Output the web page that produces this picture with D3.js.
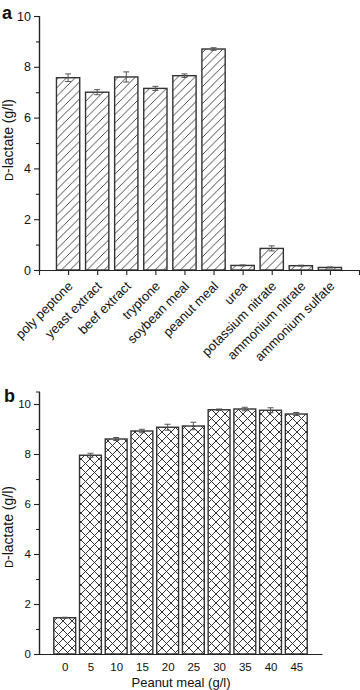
<!DOCTYPE html>
<html>
<head>
<meta charset="utf-8">
<script src="https://cdn.jsdelivr.net/npm/d3@7"></script>
<style>
  html, body { margin: 0; padding: 0; background: #fff; }
  svg { display: block; font-family: "Liberation Sans", Arial, sans-serif; }
</style>
</head>
<body>
<svg id="chart" width="360" height="690"></svg>
<script>
// ---- Data ----
const catsA = ["poly peptone", "yeast extract", "beef extract", "tryptone", "soybean meal",
               "peanut meal", "urea", "potassium nitrate", "ammonium nitrate", "ammonium sulfate"];
const valsA = [7.57, 7.0, 7.6, 7.15, 7.65, 8.7, 0.18, 0.85, 0.17, 0.1];
const errA  = [0.15, 0.1, 0.2, 0.08, 0.07, 0.05, 0.02, 0.1, 0.02, 0.02];
const yTicksA = [0, 2, 4, 6, 8, 10];

const catsB = ["0", "5", "10", "15", "20", "25", "30", "35", "40", "45"];
const valsB = [1.45, 7.95, 8.6, 8.92, 9.07, 9.12, 9.77, 9.8, 9.75, 9.6];
const errB  = [0.02, 0.08, 0.06, 0.07, 0.12, 0.15, 0.03, 0.07, 0.1, 0.06];
const yTicksB = [0, 2, 4, 6, 8, 10];

const yLabel = "D-lactate (g/l)";
const xLabelB = "Peanut meal (g/l)";

const svg = d3.select("#chart");
const AX = "#222";

// ---- patterns ----
const defs = svg.append("defs");
const pA = defs.append("pattern").attr("id", "hatchA").attr("patternUnits", "userSpaceOnUse")
  .attr("width", 8.5).attr("height", 8.5);
pA.append("rect").attr("width", 8.5).attr("height", 8.5).attr("fill", "#fff");
pA.append("path").attr("d", "M-2,2 L2,-2 M0,8.5 L8.5,0 M6.5,10.5 L10.5,6.5")
  .attr("stroke", "#333").attr("stroke-width", 0.9);

const S = 9;
const pB = defs.append("pattern").attr("id", "hatchB").attr("patternUnits", "userSpaceOnUse")
  .attr("width", S).attr("height", S);
pB.append("rect").attr("width", S).attr("height", S).attr("fill", "#fff");
pB.append("path").attr("d", `M-2,2 L2,-2 M0,${S} L${S},0 M${S-2},${S+2} L${S+2},${S-2} M-2,${S-2} L2,${S+2} M0,0 L${S},${S} M${S-2},-2 L${S+2},2`)
  .attr("stroke", "#333").attr("stroke-width", 1);

function drawPanel(opt) {
  const g = svg.append("g");
  const x = d3.scaleLinear().domain([0, opt.cats.length + 1]).range(opt.xRange);
  const y = d3.scaleLinear().domain(opt.yDomain).range(opt.yRange);
  const step = x(1) - x(0);
  const bw = step * opt.barFrac;

  // bars
  g.selectAll("rect.bar").data(opt.vals).join("rect")
    .attr("class", "bar")
    .attr("x", (d, i) => x(i + 1) - bw / 2)
    .attr("y", d => y(d))
    .attr("width", bw)
    .attr("height", d => y(0) - y(d))
    .attr("fill", `url(#${opt.pattern})`)
    .attr("stroke", "#333").attr("stroke-width", 1.4);

  // error bars
  const eg = g.append("g").attr("stroke", "#555").attr("stroke-width", 1);
  opt.vals.forEach((v, i) => {
    const cx = x(i + 1), e = opt.errs[i];
    eg.append("line").attr("x1", cx).attr("x2", cx).attr("y1", y(v - e)).attr("y2", y(v + e));
    eg.append("line").attr("x1", cx - 3).attr("x2", cx + 3).attr("y1", y(v + e)).attr("y2", y(v + e));
    eg.append("line").attr("x1", cx - 3).attr("x2", cx + 3).attr("y1", y(v - e)).attr("y2", y(v - e));
  });

  // y axis
  const minor = d3.range(opt.yDomain[0] + 1, opt.yDomain[1], 2).filter(v => !opt.yTicks.includes(v));
  const yMinor = g.append("g").attr("transform", `translate(${opt.xRange[0]},0)`)
    .call(d3.axisLeft(y).tickValues(minor).tickSize(3).tickFormat(""));
  const yAx = g.append("g").attr("transform", `translate(${opt.xRange[0]},0)`)
    .call(d3.axisLeft(y).tickValues(opt.yTicks).tickSize(5).tickPadding(3).tickSizeOuter(0));
  [yMinor, yAx].forEach(a => {
    a.select(".domain").attr("stroke", AX).attr("stroke-width", 1.2);
    a.selectAll(".tick line").attr("stroke", AX).attr("stroke-width", 1.1);
  });
  yAx.selectAll(".tick text").attr("font-size", opt.tickFont).attr("fill", "#111")
    .attr("font-family", "'Liberation Sans', Arial, sans-serif");

  // x axis
  const xAx = g.append("g").attr("transform", `translate(0,${opt.yRange[0]})`)
    .call(d3.axisBottom(x).tickValues(d3.range(0, opt.cats.length + 2))
      .tickSize(opt.xTickSize).tickSizeOuter(0)
      .tickFormat(i => (i >= 1 && i <= opt.cats.length) ? opt.cats[i - 1] : ""));
  xAx.select(".domain").attr("stroke", AX).attr("stroke-width", 1.2);
  xAx.selectAll(".tick line").attr("stroke", AX).attr("stroke-width", 1.1);
  const xt = xAx.selectAll(".tick text").attr("fill", "#111")
    .attr("font-family", "'Liberation Sans', Arial, sans-serif");
  if (opt.rotate) {
    xt.attr("font-size", 13).attr("text-anchor", "end")
      .attr("dy", null).attr("y", 0)
      .attr("transform", "translate(5,17) rotate(-45)");
  } else {
    xt.attr("font-size", opt.tickFont).attr("y", 9);
  }

  // y label
  const yl = g.append("text")
    .attr("transform", `translate(${opt.yLabelX},${opt.yLabelY}) rotate(-90)`)
    .attr("text-anchor", "middle").attr("font-size", 14).attr("fill", "#111");
  yl.append("tspan").attr("font-size", 11).text(yLabel.slice(0, 1));
  yl.append("tspan").text(yLabel.slice(1));

  // panel letter
  g.append("text").attr("x", opt.letterPos[0]).attr("y", opt.letterPos[1])
    .attr("font-size", 18).attr("font-weight", "bold").attr("fill", "#111").text(opt.letter);
  return { g, x, y };
}

drawPanel({
  cats: catsA, vals: valsA, errs: errA, yTicks: yTicksA,
  xRange: [39, 359], yDomain: [0, 10], yRange: [270, 16],
  barFrac: 0.8, pattern: "hatchA", tickFont: 12.5, xTickSize: 5, rotate: true,
  yLabelX: 13, yLabelY: 140, letter: "a", letterPos: [2, 19]
});

drawPanel({
  cats: catsB, vals: valsB, errs: errB, yTicks: yTicksB,
  xRange: [39, 322], yDomain: [0, 10.5], yRange: [654, 391.5],
  barFrac: 0.85, pattern: "hatchB", tickFont: 11.5, xTickSize: 0, rotate: false,
  yLabelX: 13, yLabelY: 527, letter: "b", letterPos: [4, 402]
});

svg.append("text").attr("x", 181).attr("y", 687).attr("text-anchor", "middle")
  .attr("font-size", 13).attr("fill", "#111").text(xLabelB);
</script>
</body>
</html>
